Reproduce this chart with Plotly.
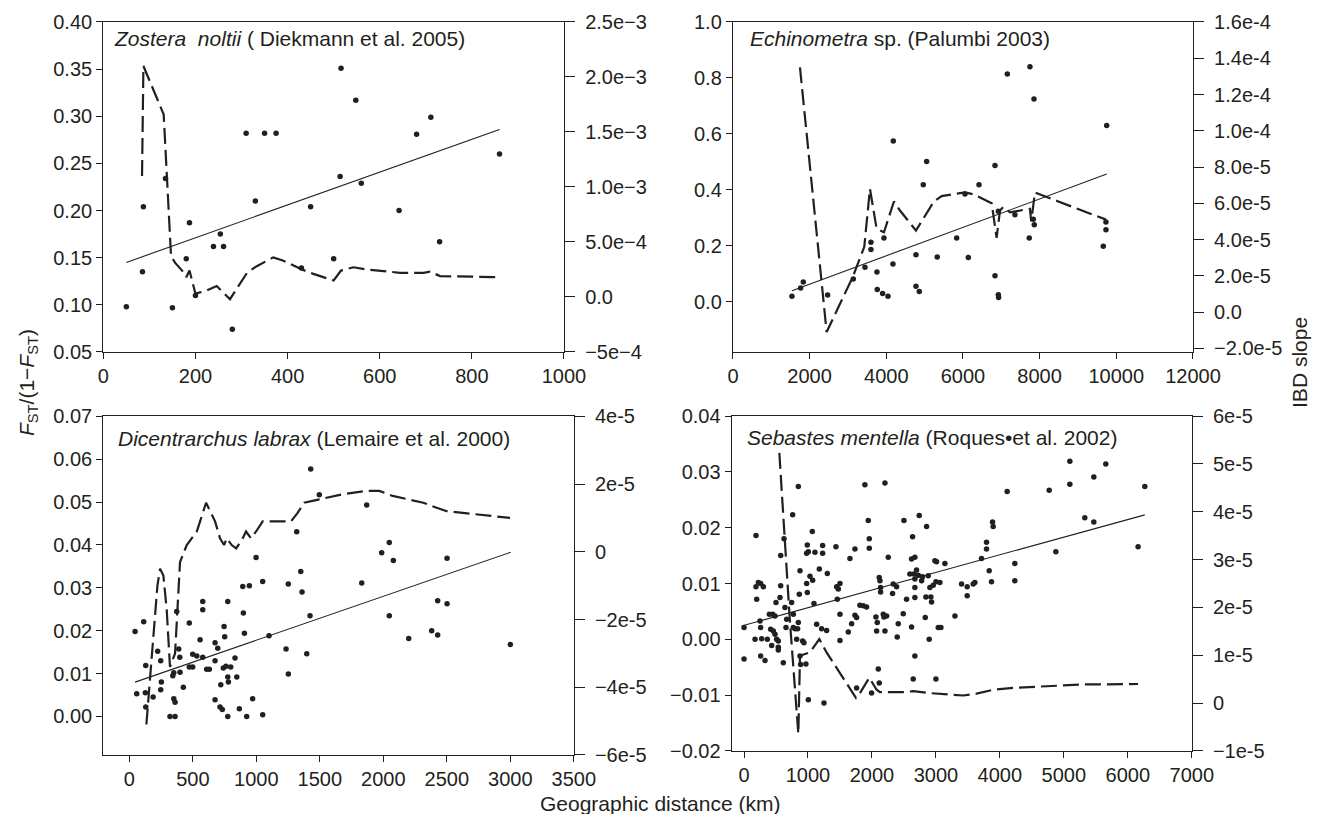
import plotly.graph_objects as go

# ---------------- Panel 1: Zostera noltii ----------------
p1_x = [50, 85, 87, 135, 150, 180, 187, 200, 239, 254, 261, 280, 310, 330, 350, 375, 430, 450, 500, 514,
        516, 548, 560, 642, 680, 711, 730, 860]
p1_y = [0.098, 0.135, 0.204, 0.234, 0.097, 0.149, 0.187, 0.110, 0.162, 0.175, 0.162, 0.074, 0.282, 0.210,
        0.282, 0.282, 0.139, 0.204, 0.149, 0.236, 0.351, 0.317, 0.229, 0.200, 0.281, 0.299, 0.167, 0.260]
p1_fit_x = [50, 860]
p1_fit_y = [0.145, 0.286]
p1_ibd_x = [84, 87, 131, 147, 156, 171, 180, 187, 200, 225, 246, 275, 312, 333, 369, 391, 431, 456, 500,
            516, 543, 572, 644, 695, 709, 731, 861]
p1_ibd_y = [1.10e-3, 2.10e-3, 1.66e-3, 0.37e-3, 0.31e-3, 0.24e-3, 0.18e-3, 0.24e-3, 0.03e-3, 0.06e-3,
            0.10e-3, -0.02e-3, 0.22e-3, 0.28e-3, 0.36e-3, 0.33e-3, 0.25e-3, 0.21e-3, 0.15e-3, 0.24e-3,
            0.27e-3, 0.25e-3, 0.22e-3, 0.22e-3, 0.23e-3, 0.19e-3, 0.18e-3]

# ---------------- Panel 2: Echinometra sp. ----------------
p2_x = [1539, 1765, 1835, 2470, 3139, 3444, 3600, 3600, 3939, 3757, 3765, 3904, 4044, 4174, 4183, 4774,
        4774, 4861, 4965, 5053, 5330, 5836, 6053, 6140, 6419, 6836, 6836, 6923, 6923, 6930, 7157, 7357,
        7748, 7853, 7730, 7835, 7861, 9750, 9731, 9661, 9730]
p2_y = [0.019, 0.049, 0.070, 0.024, 0.081, 0.123, 0.186, 0.212, 0.228, 0.106, 0.043, 0.029, 0.019, 0.135,
        0.574, 0.168, 0.055, 0.036, 0.418, 0.501, 0.160, 0.228, 0.385, 0.158, 0.418, 0.487, 0.093, 0.323,
        0.025, 0.015, 0.814, 0.311, 0.840, 0.725, 0.228, 0.295, 0.275, 0.630, 0.257, 0.198, 0.285]
p2_fit_x = [1539, 9750]
p2_fit_y = [0.039, 0.456]
p2_ibd_x = [1748, 2444, 3139, 3426, 3574, 3748, 3939, 4200, 4357, 4774, 5244, 5444, 6053, 6270, 6749,
            6879, 6966, 7053, 7227, 7748, 7780, 7879, 8487, 9731]
p2_ibd_y = [13.5e-5, -1.1e-5, 2.0e-5, 3.6e-5, 6.8e-5, 4.6e-5, 4.4e-5, 6.1e-5, 5.6e-5, 4.5e-5, 6.1e-5,
            6.4e-5, 6.6e-5, 6.5e-5, 6.0e-5, 4.1e-5, 5.6e-5, 5.8e-5, 5.5e-5, 5.7e-5, 5.0e-5, 6.6e-5,
            6.1e-5, 5.1e-5]

# ---------------- Panel 3: Dicentrarchus labrax ----------------
p3_x = [45, 113, 58, 129, 126, 129, 187, 223, 247, 252, 247, 320, 360, 342, 350, 360, 373, 389, 397, 399,
        350, 425, 472, 499, 499, 472, 531, 557, 578, 578, 578, 609, 630, 675, 675, 675, 696, 720, 714, 732,
        740, 746, 751, 761, 775, 775, 780, 775, 798, 832, 846, 866, 893, 898, 906, 924, 945, 971, 998, 1050,
        1050, 1100, 1234, 1252, 1252, 1318, 1350, 1360, 1397, 1423, 1428, 1496, 1830, 1869, 1987, 2047,
        2079, 2047, 2200, 2381, 2428, 2428, 2502, 2502, 3000]
p3_y = [0.0198, 0.0221, 0.0053, 0.0119, 0.0055, 0.0022, 0.0045, 0.0152, 0.0130, 0.0080,
        0.0062, 0.0000, 0.0000, 0.0095, 0.0041, 0.0033, 0.0245, 0.0157, 0.0138, 0.0103,
        0.0102, 0.0068, 0.0218, 0.0145, 0.0115, 0.0115, 0.0141, 0.0179, 0.0268, 0.0249,
        0.0138, 0.0110, 0.0110, 0.0172, 0.0130, 0.0039, 0.0159, 0.0074, 0.0022, 0.0016,
        0.0113, 0.0210, 0.0186, 0.0117, 0.0268, 0.0092, 0.0080, 0.0000, 0.0115, 0.0136,
        0.0092, 0.0018, 0.0303, 0.0241, 0.0194, 0.0000, 0.0305, 0.0041, 0.0371, 0.0004,
        0.0315, 0.0188, 0.0157, 0.0099, 0.0309, 0.0431, 0.0338, 0.0290, 0.0146, 0.0235,
        0.0577, 0.0517, 0.0311, 0.0493, 0.0382, 0.0406, 0.0364, 0.0235, 0.0182, 0.0200,
        0.0270, 0.0190, 0.0369, 0.0263, 0.0168]
p3_fit_x = [45, 3003]
p3_fit_y = [0.0080, 0.0383]
p3_ibd_x = [134, 181, 202, 221, 242, 268, 294, 320, 360, 378, 399, 452, 531, 557, 604, 675, 714, 746, 767,
            806, 841, 893, 919, 958, 998, 1050, 1207, 1273, 1325, 1377, 1496, 1680, 1864, 1969, 2074, 2315,
            2420, 2499, 2998]
p3_ibd_y = [-5.1e-5, -2.9e-5, -2.0e-5, -1.0e-5, -0.5e-5, -0.7e-5, -1.7e-5, -3.4e-5, -3.0e-5, -1.6e-5,
            -0.3e-5, 0.2e-5, 0.6e-5, 0.9e-5, 1.45e-5, 0.9e-5, 0.4e-5, 0.2e-5, 0.4e-5, 0.2e-5, 0.1e-5,
            0.4e-5, 0.6e-5, 0.4e-5, 0.6e-5, 0.9e-5, 0.9e-5, 0.9e-5, 1.15e-5, 1.45e-5, 1.55e-5, 1.7e-5,
            1.8e-5, 1.8e-5, 1.65e-5, 1.45e-5, 1.3e-5, 1.2e-5, 1.0e-5]

# ---------------- Panel 4: Sebastes mentella ----------------
p4_x = [0, 0, 187, 198, 187, 224, 260, 302, 250, 260, 260, 328, 172, 276, 364, 396, 448, 484, 416, 458,
        484, 432, 510, 536, 536, 536, 500, 562, 573, 573, 625, 640, 614, 666, 656, 744, 771, 760, 771, 797,
        838, 849, 823, 849, 864, 875, 875, 885, 916, 937, 968, 979, 989, 979, 989, 1005, 1067, 1031, 1073,
        1109, 1093, 1135, 1177, 1213, 1229, 1229, 1291, 1302, 1005, 1250, 1437, 1448, 1474, 1458, 1500,
        1500, 1500, 1630, 1656, 1682, 1734, 1734, 1760, 1812, 1864, 1916, 1890, 1942, 1958, 1958, 1760,
        1994, 2062, 2073, 2083, 2099, 2114, 2114, 2125, 2135, 2135, 2177, 2187, 2203, 2203, 2229, 2255,
        2322, 2333, 2385, 2411, 2395, 2489, 2500, 2541, 2593, 2619, 2635, 2656, 2671, 2671, 2671, 2671,
        2619, 2671, 2645, 2697, 2724, 2739, 2776, 2791, 2843, 2833, 2854, 2880, 2906, 2921, 2932, 2895,
        2958, 2984, 3010, 3000, 3036, 3062, 3078, 3140, 3000, 3297, 3401, 3489, 3489, 3583, 3609, 3713,
        3791, 3791, 3833, 3885, 3895, 3869, 4114, 4771, 5094, 5094, 5469, 5656, 5328, 5469, 4234, 4234,
        4875, 6161, 6266]
p4_y = [0.0021, -0.0035, 0.0186, 0.0072, 0.0094, 0.0102, 0.0100, 0.0094, 0.0033, 0.0021,
        -0.0030, -0.0038, 0.0000, 0.0001, 0.0000, 0.0045, 0.0045, 0.0042, 0.0018, 0.0015,
        0.0009, -0.0011, 0.0000, -0.0003, -0.0014, -0.0019, 0.0066, 0.0075, 0.0096, 0.0150,
        0.0180, 0.0057, -0.0042, 0.0036, 0.0021, 0.0066, 0.0045, 0.0223, 0.0021, 0.0019,
        0.0019, 0.0030, 0.0000, 0.0274, 0.0081, 0.0123, -0.0030, -0.0045, -0.0003, -0.0006,
        -0.0044, 0.0100, 0.0084, 0.0154, 0.0169, 0.0157, 0.0193, 0.0113, 0.0106, 0.0156,
        0.0064, 0.0027, 0.0126, 0.0019, 0.0168, 0.0154, 0.0016, 0.0118, -0.0108, -0.0114,
        0.0166, 0.0094, 0.0090, 0.0072, 0.0100, 0.0045, -0.0002, 0.0013, 0.0145, 0.0028,
        0.0162, 0.0043, 0.0039, 0.0061, 0.0060, 0.0058, 0.0277, 0.0213, 0.0163, 0.0180,
        -0.0087, -0.0096, 0.0040, 0.0015, 0.0030, -0.0053, -0.0078, 0.0111, 0.0105, 0.0093,
        0.0085, 0.0045, 0.0040, 0.0015, 0.0280, 0.0042, 0.0147, 0.0082, 0.0099, 0.0094,
        0.0028, 0.0004, 0.0046, 0.0213, 0.0072, 0.0117, 0.0144, 0.0184, 0.0117, 0.0147,
        0.0108, 0.0093, 0.0075, 0.0022, -0.0030, -0.0071, 0.0124, 0.0115, 0.0222, 0.0105,
        0.0112, 0.0076, 0.0039, 0.0202, 0.0114, 0.0093, 0.0076, 0.0067, 0.0000, 0.0097,
        0.0141, 0.0139, 0.0103, 0.0021, 0.0102, 0.0021, 0.0136, -0.0071, 0.0042, 0.0099,
        0.0094, 0.0078, 0.0099, 0.0102, 0.0145, 0.0162, 0.0174, 0.0123, 0.0210, 0.0202,
        0.0103, 0.0265, 0.0267, 0.0319, 0.0278, 0.0291, 0.0314, 0.0218, 0.0210, 0.0136,
        0.0105, 0.0157, 0.0166, 0.0274]
p4_fit_x = [-37, 6266]
p4_fit_y = [0.0024, 0.0223]
p4_ibd_x = [552, 718, 849, 875, 1031, 1177, 1291, 1500, 1750, 1812, 1958, 2073, 2125, 2489, 2645, 2906,
            3427, 3635, 3895, 4208, 4781, 5302, 6161]
p4_ibd_y = [5.23e-5, 1.7e-5, -0.64e-5, 0.99e-5, 1.06e-5, 1.34e-5, 1.06e-5, 0.64e-5, 0.11e-5, 0.21e-5,
            0.53e-5, 0.28e-5, 0.23e-5, 0.23e-5, 0.25e-5, 0.21e-5, 0.16e-5, 0.20e-5, 0.28e-5, 0.32e-5,
            0.36e-5, 0.39e-5, 0.40e-5]

# ---------------- Tick labels ----------------
p1_xt = [0, 200, 400, 600, 800, 1000]
p2_xt = [0, 2000, 4000, 6000, 8000, 10000, 12000]
p3_xt = [0, 500, 1000, 1500, 2000, 2500, 3000, 3500]
p4_xt = [0, 1000, 2000, 3000, 4000, 5000, 6000, 7000]

p1_yl_vals = [0.05, 0.10, 0.15, 0.20, 0.25, 0.30, 0.35, 0.40]
p1_yl_text = ["0.05", "0.10", "0.15", "0.20", "0.25", "0.30", "0.35", "0.40"]
p2_yl_vals = [0.0, 0.2, 0.4, 0.6, 0.8, 1.0]
p2_yl_text = ["0.0", "0.2", "0.4", "0.6", "0.8", "1.0"]
p3_yl_vals = [0.00, 0.01, 0.02, 0.03, 0.04, 0.05, 0.06, 0.07]
p3_yl_text = ["0.00", "0.01", "0.02", "0.03", "0.04", "0.05", "0.06", "0.07"]
p4_yl_vals = [-0.02, -0.01, 0.00, 0.01, 0.02, 0.03, 0.04]
p4_yl_text = ["\u22120.02", "\u22120.01", "0.00", "0.01", "0.02", "0.03", "0.04"]

p1_yr_vals = [-5e-4, 0, 5e-4, 1e-3, 1.5e-3, 2e-3, 2.5e-3]
p1_yr_text = ["\u22125e\u22124", "0.0", "5.0e\u22124", "1.0e\u22123", "1.5e\u22123", "2.0e\u22123", "2.5e\u22123"]
p2_yr_vals = [-2e-5, 0, 2e-5, 4e-5, 6e-5, 8e-5, 1e-4, 1.2e-4, 1.4e-4, 1.6e-4]
p2_yr_text = ["\u22122.0e-5", "0.0", "2.0e-5", "4.0e-5", "6.0e-5", "8.0e-5", "1.0e-4", "1.2e-4", "1.4e-4", "1.6e-4"]
p3_yr_vals = [-6e-5, -4e-5, -2e-5, 0, 2e-5, 4e-5]
p3_yr_text = ["\u22126e-5", "\u22124e-5", "\u22122e-5", "0", "2e-5", "4e-5"]
p4_yr_vals = [-1e-5, 0, 1e-5, 2e-5, 3e-5, 4e-5, 5e-5, 6e-5]
p4_yr_text = ["\u22121e-5", "0", "1e-5", "2e-5", "3e-5", "4e-5", "5e-5", "6e-5"]

INK = "#231f20"
FONT = "Liberation Sans, Arial, Helvetica, sans-serif"
TICKFONT = dict(family=FONT, size=20, color=INK)

fig = go.Figure()

panels = [
    ("x", "y", "y5", p1_x, p1_y, p1_fit_x, p1_fit_y, p1_ibd_x, p1_ibd_y),
    ("x2", "y2", "y6", p2_x, p2_y, p2_fit_x, p2_fit_y, p2_ibd_x, p2_ibd_y),
    ("x3", "y3", "y7", p3_x, p3_y, p3_fit_x, p3_fit_y, p3_ibd_x, p3_ibd_y),
    ("x4", "y4", "y8", p4_x, p4_y, p4_fit_x, p4_fit_y, p4_ibd_x, p4_ibd_y),
]
for xa, ya, yr, sx, sy, fx, fy, ix, iy in panels:
    fig.add_trace(go.Scatter(x=sx, y=sy, mode="markers", xaxis=xa, yaxis=ya,
                             marker=dict(size=5.5, color=INK), showlegend=False, hoverinfo="skip"))
    fig.add_trace(go.Scatter(x=fx, y=fy, mode="lines", xaxis=xa, yaxis=ya,
                             line=dict(color=INK, width=1.1), showlegend=False, hoverinfo="skip"))
    fig.add_trace(go.Scatter(x=ix, y=iy, mode="lines", xaxis=xa, yaxis=yr,
                             line=dict(color=INK, width=2.2, dash="16px,6px"),
                             showlegend=False, hoverinfo="skip"))


def xaxis(domain, rng, tv, anchor):
    return dict(domain=domain, range=rng, tickvals=tv, ticktext=[str(v) for v in tv],
                anchor=anchor, showline=True, linecolor=INK, linewidth=1.3, mirror=True,
                ticks="outside", ticklen=6, tickwidth=1.2, tickcolor=INK, tickfont=TICKFONT,
                showgrid=False, zeroline=False, automargin=False)


def yleft(domain, rng, tv, tt, anchor):
    return dict(domain=domain, range=rng, tickvals=tv, ticktext=tt, anchor=anchor,
                showline=True, linecolor=INK, linewidth=1.3, ticks="outside", ticklen=6,
                tickwidth=1.2, tickcolor=INK, tickfont=TICKFONT, showgrid=False, zeroline=False,
                automargin=False)


def yright(over, rng, tv, tt, anchor):
    return dict(overlaying=over, side="right", range=rng, tickvals=tv, ticktext=tt, anchor=anchor,
                showline=True, linecolor=INK, linewidth=1.3, ticks="outside", ticklen=10,
                tickwidth=1.2, tickcolor=INK, tickfont=TICKFONT, showgrid=False, zeroline=False,
                ticklabelstandoff=6, automargin=False)


top_dom = [0.5676, 0.9730]
d3_dom = [0.0725, 0.4885]
d4_dom = [0.0774, 0.4889]

fig.update_layout(
    template="none",
    width=1323, height=814, autosize=False,
    margin=dict(l=0, r=0, t=0, b=0, pad=0),
    paper_bgcolor="white", plot_bgcolor="white",
    font=dict(family=FONT, color=INK),
    showlegend=False,
    xaxis=xaxis([0.0781, 0.4263], [0, 1000], p1_xt, "y"),
    xaxis2=xaxis([0.5540, 0.9017], [0, 12000], p2_xt, "y2"),
    xaxis3=xaxis([0.0781, 0.4337], [-205, 3500], p3_xt, "y3"),
    xaxis4=xaxis([0.5531, 0.9008], [-192, 7000], p4_xt, "y4"),
    yaxis=yleft(top_dom, [0.05, 0.40], p1_yl_vals, p1_yl_text, "x"),
    yaxis2=yleft(top_dom, [-0.18, 1.0], p2_yl_vals, p2_yl_text, "x2"),
    yaxis3=yleft(d3_dom, [-0.009, 0.07], p3_yl_vals, p3_yl_text, "x3"),
    yaxis4=yleft(d4_dom, [-0.02, 0.04], p4_yl_vals, p4_yl_text, "x4"),
    yaxis5=yright("y", [-5e-4, 2.5e-3], p1_yr_vals, p1_yr_text, "x"),
    yaxis6=yright("y2", [-2.2e-5, 1.6e-4], p2_yr_vals, p2_yr_text, "x2"),
    yaxis7=yright("y3", [-6e-5, 4e-5], p3_yr_vals, p3_yr_text, "x3"),
    yaxis8=yright("y4", [-1e-5, 6e-5], p4_yr_vals, p4_yr_text, "x4"),
)

ann_font = dict(family=FONT, size=21, color=INK)
titles = [
    (0.0847, 0.9533, "<i>Zostera  noltii</i> ( Diekmann et al. 2005)"),
    (0.5654, 0.9533, "<i>Echinometra</i> sp. (Palumbi 2003)"),
    (0.0877, 0.4619, "<i>Dicentrarchus labrax</i> (Lemaire et al. 2000)"),
    (0.5631, 0.4631, "<i>Sebastes mentella</i> (Roques\u2022et al. 2002)"),
]
for x, y, t in titles:
    fig.add_annotation(x=x, y=y, xref="paper", yref="paper", text=t, showarrow=False,
                       xanchor="left", yanchor="middle", font=ann_font)

axis_font = dict(family=FONT, size=21, color=INK)
fig.add_annotation(x=0.4989, y=0.0125, xref="paper", yref="paper", text="Geographic distance (km)",
                   showarrow=False, xanchor="center", yanchor="middle", font=axis_font)
fig.add_annotation(x=0.0212, y=0.5295, xref="paper", yref="paper",
                   text="<i>F</i><sub>ST</sub>/(1\u2212<i>F</i><sub>ST</sub>)", textangle=-90,
                   showarrow=False, xanchor="center", yanchor="middle", font=axis_font)
fig.add_annotation(x=0.9826, y=0.5553, xref="paper", yref="paper", text="IBD slope", textangle=-90,
                   showarrow=False, xanchor="center", yanchor="middle", font=axis_font)

fig.write_html("out.html")
